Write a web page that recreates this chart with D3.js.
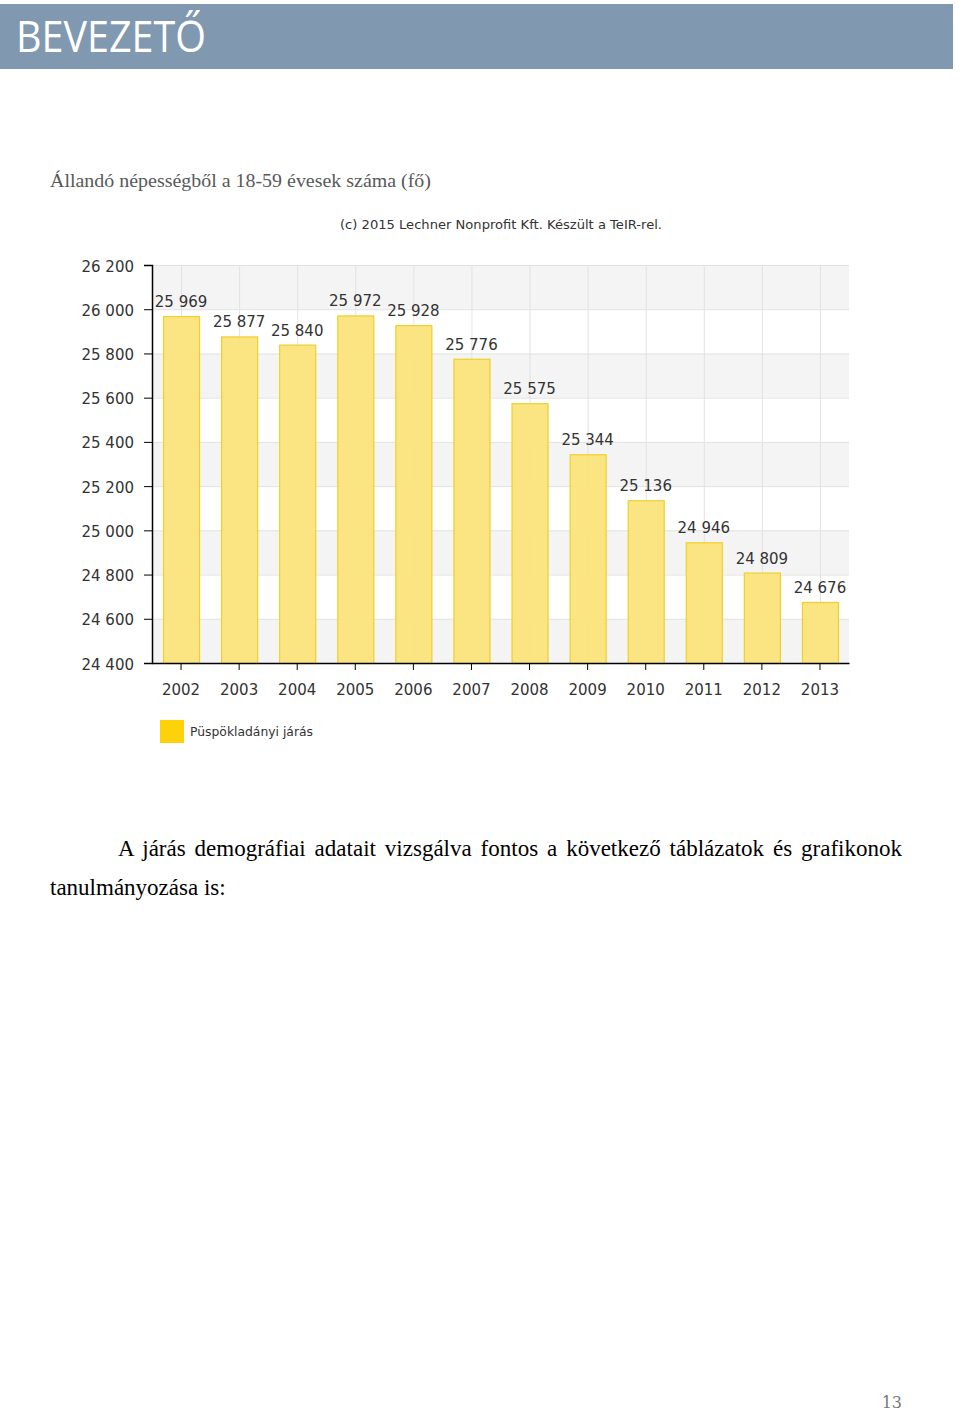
<!DOCTYPE html>
<html>
<head>
<meta charset="utf-8">
<script src="https://cdn.jsdelivr.net/npm/d3@7"></script>
<style>
  body { margin: 0; background: #fff; }
  svg { display: block; }
</style>
</head>
<body>
<svg id="page" width="960" height="1413"></svg>
<script>
// data
const years = ["2002", "2003", "2004", "2005", "2006", "2007", "2008", "2009", "2010", "2011", "2012", "2013"];
const values = [25969, 25877, 25840, 25972, 25928, 25776, 25575, 25344, 25136, 24946, 24809, 24676];
const yTicks = [24400, 24600, 24800, 25000, 25200, 25400, 25600, 25800, 26000, 26200];
const seriesName = "Püspökladányi járás";

const svg = d3.select("#page");
const fmt = v => d3.format(",")(v).replace(/,/g, " ");

// header bar
svg.append("rect").attr("x", 0).attr("y", 4).attr("width", 953).attr("height", 65).attr("fill", "#8098b0");
svg.append("text")
    .attr("x", 16).attr("y", 52)
    .attr("font-family", "Open Sans")
    .attr("font-size", 44)
    .attr("textLength", 190).attr("lengthAdjust", "spacingAndGlyphs")
    .attr("fill", "#fff")
    .text("BEVEZETŐ");

svg.append("text")
    .attr("x", 50).attr("y", 187)
    .attr("font-family", "Liberation Serif")
    .attr("font-size", 19)
    .attr("textLength", 381).attr("lengthAdjust", "spacingAndGlyphs")
    .attr("fill", "#595959")
    .text("Állandó népességből a 18-59 évesek száma (fő)");

svg.append("text")
    .attr("x", 501).attr("y", 229)
    .attr("text-anchor", "middle")
    .attr("font-family", "DejaVu Sans")
    .attr("font-size", 12)
    .attr("textLength", 322).attr("lengthAdjust", "spacingAndGlyphs")
    .attr("fill", "#333")
    .text("(c) 2015 Lechner Nonprofit Kft. Készült a TeIR-rel.");

// chart
const plotLeft = 152, plotRight = 849, plotTop = 265, plotBottom = 663;

const x = d3.scaleBand()
    .domain(years)
    .range([plotLeft, plotRight])
    .paddingInner(0.38)
    .paddingOuter(0.19);

const y = d3.scaleLinear()
    .domain([24400, 26200])
    .range([plotBottom, plotTop]);

const g = svg.append("g").attr("font-family", "DejaVu Sans");

// alternating bands
g.append("g")
    .selectAll("rect")
    .data(yTicks.slice(0, -1))
    .join("rect")
    .attr("x", plotLeft)
    .attr("width", plotRight - plotLeft)
    .attr("y", d => y(d + 200))
    .attr("height", d => y(d) - y(d + 200))
    .attr("fill", (d, i) => i % 2 === 0 ? "#f4f4f4" : "#fff");

// grid
g.append("g")
    .selectAll("line")
    .data(yTicks)
    .join("line")
    .attr("x1", plotLeft).attr("x2", plotRight)
    .attr("y1", d => y(d) + 0.5).attr("y2", d => y(d) + 0.5)
    .attr("stroke", "#e2e2e2");

g.append("g")
    .selectAll("line")
    .data(years)
    .join("line")
    .attr("x1", d => x(d) + x.bandwidth() / 2 + 0.5)
    .attr("x2", d => x(d) + x.bandwidth() / 2 + 0.5)
    .attr("y1", plotTop).attr("y2", plotBottom)
    .attr("stroke", "#e2e2e2");

// bars
g.append("g")
    .selectAll("rect")
    .data(values)
    .join("rect")
    .attr("x", (d, i) => x(years[i]) + 0.5)
    .attr("width", x.bandwidth())
    .attr("y", d => y(d) + 0.5)
    .attr("height", d => y(24400) - y(d))
    .attr("fill", "#fbe47c")
    .attr("fill-opacity", 0.95)
    .attr("stroke", "#f0cf2a")
    .attr("stroke-width", 1.2);

// value labels
g.append("g")
    .selectAll("text")
    .data(values)
    .join("text")
    .attr("x", (d, i) => x(years[i]) + x.bandwidth() / 2)
    .attr("y", d => y(d) - 9)
    .attr("text-anchor", "middle")
    .attr("font-size", 15)
    .attr("fill", "#333")
    .text(d => fmt(d));

// axes
const yAxis = g.append("g")
    .attr("transform", `translate(${plotLeft},0)`)
    .call(d3.axisLeft(y).tickValues(yTicks).tickFormat(fmt).tickSize(8).tickPadding(10));
yAxis.select(".domain").attr("stroke", "#000").attr("stroke-width", 1.5);
yAxis.selectAll(".tick line").attr("stroke", "#000");
yAxis.selectAll(".tick text").attr("font-size", 15).attr("font-family", "DejaVu Sans").attr("fill", "#333").attr("dy", "0.4em");

const xAxis = g.append("g")
    .attr("transform", `translate(0,${plotBottom})`)
    .call(d3.axisBottom(x).tickSize(7).tickSizeOuter(0).tickPadding(14));
xAxis.select(".domain").attr("stroke", "#000").attr("stroke-width", 1.5);
xAxis.selectAll(".tick line").attr("stroke", "#000");
xAxis.selectAll(".tick text").attr("font-size", 15).attr("font-family", "DejaVu Sans").attr("fill", "#333");

// legend
svg.append("rect").attr("x", 160).attr("y", 720).attr("width", 24).attr("height", 23).attr("fill", "#fdd20a");
svg.append("text")
    .attr("x", 190).attr("y", 736)
    .attr("font-family", "DejaVu Sans")
    .attr("font-size", 12)
    .attr("textLength", 123).attr("lengthAdjust", "spacingAndGlyphs")
    .attr("fill", "#333")
    .text(seriesName);

// body text, first line justified by widening the word gaps
const line1 = "A járás demográfiai adatait vizsgálva fontos a következő táblázatok és grafikonok";
const para = svg.append("text")
    .attr("x", 118).attr("y", 856)
    .attr("font-family", "Liberation Serif")
    .attr("font-size", 23)
    .attr("fill", "#000")
    .text(line1);
const gaps = line1.split(" ").length - 1;
const natural = para.node().getComputedTextLength();
para.attr("word-spacing", Math.max(0, (784 - natural) / gaps));

svg.append("text")
    .attr("x", 50).attr("y", 895)
    .attr("font-family", "Liberation Serif")
    .attr("font-size", 23)
    .attr("fill", "#000")
    .text("tanulmányozása is:");

svg.append("text")
    .attr("x", 902).attr("y", 1408)
    .attr("text-anchor", "end")
    .attr("font-family", "DejaVu Serif")
    .attr("font-size", 16)
    .attr("fill", "#777")
    .text("13");
</script>
</body>
</html>
